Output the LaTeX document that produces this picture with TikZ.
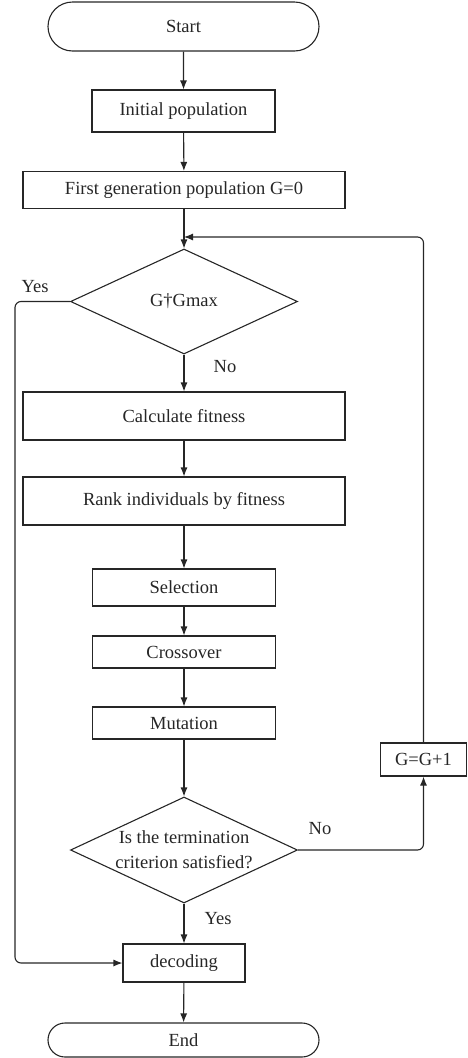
\documentclass[tikz,border=0pt]{standalone}
\usepackage{fontspec}
\setmainfont{Liberation Serif}
\usetikzlibrary{shapes.geometric,shapes.misc,arrows.meta}
\begin{document}
\begin{tikzpicture}[x=1pt,y=1pt,
  every node/.style={font=\fontsize{18.5}{25}\selectfont, text=black!85},
  box/.style={draw=black!85, line width=1.1pt, rectangle, inner sep=0pt, minimum width=#1},
  pill/.style={draw=black!85, line width=1.1pt, rounded rectangle, inner sep=0pt, minimum width=271pt},
  dec/.style={draw=black!85, line width=1.1pt, diamond, inner sep=0pt, minimum width=227pt, minimum height=105pt},
  conn/.style={draw=black!85, line width=1.1pt, -{Latex[length=9pt,width=7pt]}, rounded corners=6pt},
  lbl/.style={inner sep=0pt}
]
\useasboundingbox (0,0) rectangle (467,-1058);
\node[pill, minimum height=49pt] (start) at (183.5,-26.5) {Start};
\node[box=183pt, minimum height=42pt] (init) at (183.5,-111) {Initial population};
\node[box=322pt, minimum height=37pt] (first) at (184,-190) {First generation population G=0};
\coordinate (merge) at (184,-237);
\node[dec] (d1) at (184,-301.5) {};
\node[lbl] (d1t) at (d1.center) {G\textdagger Gmax};
\node[box=322pt, minimum height=48pt] (calc) at (184,-416) {Calculate fitness};
\node[box=322pt, minimum height=48pt] (rank) at (184,-501) {Rank individuals by fitness};
\node[box=183pt, minimum height=37pt] (sel) at (184,-587.5) {Selection};
\node[box=183pt, minimum height=32pt] (cross) at (184,-652) {Crossover};
\node[box=183pt, minimum height=32pt] (mut) at (184,-723) {Mutation};
\node[dec, minimum height=106pt] (d2) at (184,-850) {};
\node[lbl, align=center] (d2t) at (d2.center) {Is the termination\\criterion satisfied?};
\node[box=86pt, minimum height=33pt] (g1) at (423.5,-759.5) {G=G+1};
\node[box=122pt, minimum height=38pt] (decod) at (184,-963) {decoding};
\node[pill, minimum height=34pt] (end) at (183.5,-1040) {End};
\coordinate (lc) at (15,-301.5);
\coordinate (rc) at (423.5,-850);

\node[lbl] (yes1) at (35,-287) {Yes};
\node[lbl] (no1) at (225,-367) {No};
\node[lbl] (no2) at (320,-829) {No};
\node[lbl] (yes2) at (218,-919) {Yes};

\draw[conn] (start) -- (init);
\draw[conn] (init) -- (first);
\draw[conn] (first) -- (d1);
\draw[conn] (g1.north) |- (merge);
\draw[conn] (d1.west) -- (lc) |- (decod.west);
\draw[conn] (d1) -- (calc);
\draw[conn] (calc) -- (rank);
\draw[conn] (rank) -- (sel);
\draw[conn] (sel) -- (cross);
\draw[conn] (cross) -- (mut);
\draw[conn] (mut) -- (d2);
\draw[conn] (d2.east) -- (rc) -- (g1.south);
\draw[conn] (d2) -- (decod);
\draw[conn] (decod) -- (end);
\end{tikzpicture}
\end{document}
